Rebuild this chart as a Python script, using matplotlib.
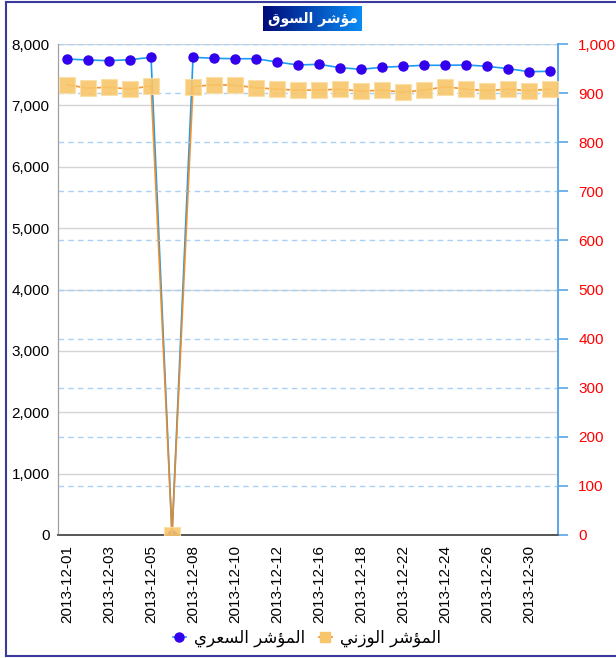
import matplotlib
matplotlib.use("Agg")
from matplotlib import pyplot as plt
from matplotlib.lines import Line2D
import numpy as np

plt.rcParams['font.family'] = ['Liberation Sans', 'DejaVu Sans']

dates = ["2013-12-01", "2013-12-02", "2013-12-03", "2013-12-04", "2013-12-05",
         "2013-12-07", "2013-12-08", "2013-12-09", "2013-12-10", "2013-12-11",
         "2013-12-12", "2013-12-15", "2013-12-16", "2013-12-17", "2013-12-18",
         "2013-12-19", "2013-12-22", "2013-12-23", "2013-12-24", "2013-12-25",
         "2013-12-26", "2013-12-29", "2013-12-30", "2013-12-31"]
price_index = [7755, 7739, 7728, 7744, 7783, 0, 7783, 7767, 7760, 7760,
               7707, 7658, 7669, 7614, 7588, 7620, 7637, 7653, 7653, 7658,
               7637, 7598, 7549, 7555]
weighted_index = [917, 910, 912, 908, 915, 0, 913, 917, 916, 911,
                  908, 906, 906, 908, 904, 906, 902, 906, 913, 908,
                  905, 908, 905, 908]

# arabic text in presentation forms, visual order (no shaping engine in mpl)
title_txt = "\ufed5\ufeee\ufeb4\ufedf\ufe8d \ufeae\ufeb7\ufe86\ufee3"          # مؤشر السوق
price_lbl = "\ufef1\ufeae\ufecc\ufeb4\ufedf\ufe8d \ufeae\ufeb7\ufe86\ufee4\ufedf\ufe8d"   # المؤشر السعري
weight_lbl = "\ufef2\ufee7\ufeaf\ufeee\ufedf\ufe8d \ufeae\ufeb7\ufe86\ufee4\ufedf\ufe8d"  # المؤشر الوزني

W, H = 616, 658
fig = plt.figure(figsize=(W / 100, H / 100), dpi=100)
ax = fig.add_axes([58 / W, (H - 535) / H, 500 / W, 491 / H])
ax2 = ax.twinx()

x = np.arange(len(dates))
ax.plot(x, price_index, color="#1e9bf0", lw=1.2, marker="o", ms=6.5,
        mfc="#3300ee", mec="#3300ee", zorder=3)
ax2.plot(x, weighted_index, color="#f28a1e", lw=1.2, marker="s", ms=11.5,
         mfc="#f8c66a", mec="#fbdfa8", mew=0.8, alpha=0.9, zorder=3)

ax.set_xlim(-0.43, len(dates) - 1 + 0.38)
ax.set_ylim(0, 8000)
ax2.set_ylim(0, 1000)
ax.set_yticks(np.arange(0, 8001, 1000))
ax2.set_yticks(np.arange(0, 1001, 100))
ax.set_yticklabels([f"{v:,}" for v in range(0, 8001, 1000)])
ax2.set_yticklabels([f"{v:,}" for v in range(0, 1001, 100)])
ax.set_xticks(x[::2])
ax.set_xticklabels(dates[::2], rotation=90)

ax.grid(axis="y", color="#d4d4d4", lw=1)
ax2.grid(axis="y", color="#a9d0f5", lw=1, ls=(0, (4, 3)))
ax.set_axisbelow(True)
ax2.set_axisbelow(True)

ax.tick_params(axis="y", length=0, pad=6, labelsize=11)
ax.tick_params(axis="x", length=0, pad=7, labelsize=11)
ax2.tick_params(axis="y", length=7.5, width=1.2, color="#5aa5e8",
                labelcolor="#ff0000", pad=7, labelsize=11)

for a in (ax, ax2):
    a.spines["top"].set_visible(False)
    a.spines["left"].set_color("#a0a0a0")
    a.spines["bottom"].set_color("#555555")
    a.spines["bottom"].set_linewidth(1.2)
    a.spines["right"].set_color("#5aa5e8")
    a.spines["right"].set_linewidth(1.2)

# title box with gradient
tax = fig.add_axes([263 / W, (H - 31) / H, 99 / W, 25 / H])
grad = np.linspace(0, 1, 256).reshape(1, -1)
cmap = matplotlib.colors.LinearSegmentedColormap.from_list("t", ["#000a78", "#0a8cf5"])
tax.imshow(grad, aspect="auto", cmap=cmap, extent=(0, 1, 0, 1))
tax.set_axis_off()
tax.text(0.5, 0.5, title_txt, color="white", fontsize=10, fontweight="bold",
         ha="center", va="center", family=["DejaVu Sans"], transform=tax.transAxes)

# legend
handles = [Line2D([], [], color="#1e9bf0", lw=1.2, marker="o", ms=6.5,
                  mfc="#3300ee", mec="#3300ee"),
           Line2D([], [], color="#f28a1e", lw=1.2, marker="s", ms=7,
                  mfc="#f8c66a", mec="#f8c66a")]
leg = fig.legend(handles, [price_lbl, weight_lbl], loc="center",
                 bbox_to_anchor=(307 / W, (H - 638) / H), ncol=2, frameon=False,
                 handlelength=0.8, handletextpad=0.5, columnspacing=0.8,
                 prop={"family": "DejaVu Sans", "size": 12})

# outer frame
fig.add_artist(Line2D([6 / W, 6 / W], [2 / H, 1 - 2 / H], color="#3a3a9c", lw=1.5))
fig.add_artist(Line2D([6 / W, 1], [1 - 2 / H, 1 - 2 / H], color="#3a3a9c", lw=1.5))
fig.add_artist(Line2D([6 / W, 1], [2 / H, 2 / H], color="#3a3a9c", lw=1.5))

fig.savefig("out.png", dpi=100)
